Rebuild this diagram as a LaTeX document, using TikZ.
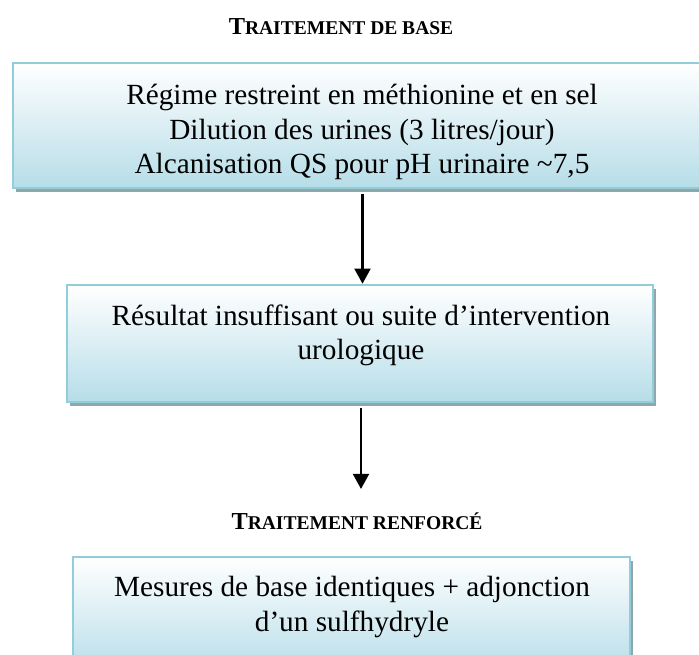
\documentclass[tikz,border=0pt]{standalone}
\usepackage{fontspec}
\setmainfont{Liberation Serif}
\usetikzlibrary{arrows.meta,shadows}

\definecolor{bordbleu}{RGB}{146,205,220}
\definecolor{fondbleu}{RGB}{182,221,232}
\definecolor{ombre}{RGB}{143,166,171}
\newcommand{\pcap}[1]{{\fontsize{8}{9.6}\selectfont #1}}

\tikzset{
  boite/.style={draw=bordbleu, line width=1pt, top color=white, bottom color=fondbleu,
    inner sep=0pt, drop shadow={shadow xshift=1.2pt, shadow yshift=-1.8pt, fill=ombre, opacity=1}},
  texte/.style={align=center, font=\fontsize{12}{14}\selectfont},
  titre/.style={anchor=base, font=\fontsize{10}{12}\selectfont\bfseries},
  fleche/.style={-{Triangle[width=6.5pt,length=6.2pt]}, line width=1pt}
}

\begin{document}
\begin{tikzpicture}[x=0.41pt, y=-0.41pt]
\useasboundingbox (0,0) rectangle (699,654);

% 上方标题
\node[titre] (titre1) at (341,35) {T\pcap{RAITEMENT DE BASE}};

% 第一个方框及其文字
\node[boite, minimum width=286.6pt, minimum height=51.3pt] (b1) at (362.5,125.5) {};
\node[texte] (t1) at (362,132) {Régime restreint en méthionine et en sel\\
  Dilution des urines (3 litres/jour)\\
  Alcanisation QS pour pH urinaire \textasciitilde7,5};

% 第二个方框及其文字
\node[boite, minimum width=240.3pt, minimum height=48pt] (b2) at (360,343.5) {};
\node[texte] (t2) at (361,335) {Résultat insuffisant ou suite d’intervention\\urologique};

% 下方标题
\node[titre] (titre2) at (357,529) {T\pcap{RAITEMENT RENFORCÉ}};

% 第三个方框及其文字
\node[boite, minimum width=228.4pt, minimum height=48pt] (b3) at (351.5,615.5) {};
\node[texte] (t3) at (352,607) {Mesures de base identiques + adjonction\\d’un sulfhydryle};

% 箭头
\draw[fleche, shorten <=1.8pt] (b1.south) -- (b1.south |- b2.north);
\coordinate (pointe) at (361,489);
\draw[fleche, shorten <=1.8pt] (b2.south -| pointe) -- (pointe);

\end{tikzpicture}
\end{document}
